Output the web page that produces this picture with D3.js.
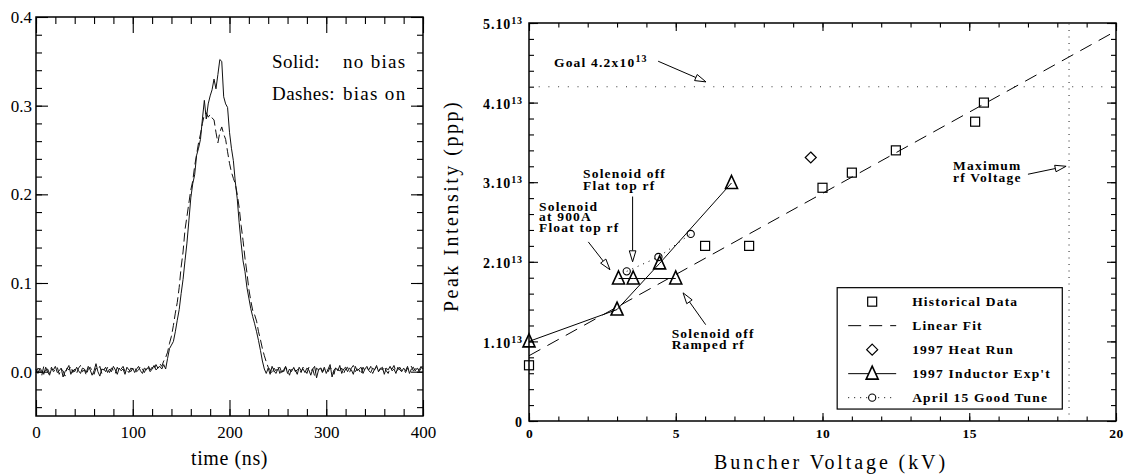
<!DOCTYPE html>
<html>
<head>
<meta charset="utf-8">
<script src="https://cdn.jsdelivr.net/npm/d3@7"></script>
<style>
  body { margin: 0; background: #fff; }
  svg { display: block; }
</style>
</head>
<body>
<svg id="chart" width="1124" height="474"></svg>
<script>
// ---------- left panel: beam pulse, one sample every 2 ns from 0 to 400 ns
var sampleStep = 2;
var solidV = [
  .003,-.002,.004,.001,-.003,.005,.000,-.004,.003,.002,
  .006,-.001,.001,.004,-.006,.000,.003,.007,-.003,.002,
  .000,.005,.001,-.002,.004,.003,-.001,.006,.002,-.004,
  .001,.009,.000,-.005,.003,.002,.005,-.001,.003,.000,
  .006,.002,-.003,.004,.001,.003,-.003,.005,.002,.000,
  .004,-.001,.003,.006,.001,-.002,.004,.002,.005,.000,
  .003,.007,.002,.004,.006,.003,.008,.003,.015,.026,
  .030,.034,.045,.058,.070,.088,.104,.125,.145,.170,
  .196,.212,.222,.244,.252,.262,.285,.306,.285,.302,
  .311,.318,.330,.319,.335,.352,.350,.310,.302,.298,
  .270,.252,.238,.214,.195,.168,.145,.125,.113,.095,
  .083,.071,.062,.054,.045,.035,.024,.012,.003,-.002,
  .004,-.003,.006,.001,-.002,.003,.005,-.001,.002,.006,
  -.002,.003,.000,.004,.002,-.003,.005,.001,.003,-.001,
  .004,.002,-.004,.003,.006,-.007,.002,.004,.000,.005,
  -.002,.003,.008,-.006,.002,.004,.001,.007,-.002,.003,
  .005,.000,.004,.002,-.003,.006,.001,.003,.005,-.002,
  .003,.006,.001,-.001,.004,.002,.007,.000,.003,.005,
  -.003,.004,.002,.006,.001,.003,-.002,.005,.002,.000,
  .004,.001,.006,-.002,.003,.005,.001,.004,.002,.006,
  .003
];
var dashedV = [
  -.001,.004,.002,-.004,.006,.001,.003,-.002,.005,.000,
  .002,.005,-.003,.003,.001,-.005,.004,.002,.006,-.001,
  .003,-.002,.004,.007,.000,.002,-.004,.003,.005,.001,
  -.003,.004,.002,.006,-.002,.003,.000,.005,-.001,.004,
  .002,-.002,.005,.001,.003,.006,.000,.002,-.001,.004,
  .003,.005,.000,.002,.006,.003,-.001,.004,.007,.002,
  .005,.002,.008,.004,.009,.006,.012,.016,.022,.032,
  .040,.052,.066,.078,.095,.118,.135,.160,.175,.190,
  .205,.215,.232,.245,.258,.268,.280,.290,.292,.287,
  .290,.286,.284,.270,.258,.270,.276,.268,.262,.248,
  .235,.225,.218,.212,.200,.185,.165,.148,.128,.112,
  .093,.080,.069,.064,.057,.045,.036,.026,.018,.011,
  .005,.002,-.003,.004,.001,.006,-.002,.003,.000,.005,
  .002,-.004,.003,.006,.000,.002,.004,-.001,.005,.002,
  -.002,.005,.001,.003,-.005,.004,.002,.006,-.001,.003,
  .004,.000,.005,.002,-.003,.006,.002,.001,.004,-.002,
  .003,.005,-.001,.004,.007,.000,.003,.002,-.003,.005,
  .001,.004,.002,.006,-.002,.003,.005,.000,.004,.002,
  .006,.001,-.002,.004,.003,.007,.000,.002,.005,.001,
  .003,-.001,.004,.002,.006,.001,.003,.005,.000,.004,
  .006
];
var leftXTicks = [0, 100, 200, 300, 400];
var leftYTicks = [0.0, 0.1, 0.2, 0.3, 0.4];

// ---------- right panel: peak intensity (units of 1e13 ppp) vs buncher voltage (kV)
var histX = [0, 6.0, 7.5, 10.0, 11.0, 12.5, 15.2, 15.5];
var histY = [0.70, 2.20, 2.20, 2.93, 3.12, 3.40, 3.76, 4.00];
var heatX = [9.6];
var heatY = [3.31];
var inductX = [0, 3.0, 4.45, 6.9];
var inductY = [1.0, 1.40, 1.98, 2.99];
var flatX = [3.05, 3.55, 5.0];
var flatY = [1.79, 1.79, 1.79];
var tuneX = [3.33, 4.41, 5.51];
var tuneY = [1.88, 2.06, 2.35];
var fitX = [0, 20];
var fitY = [0.82, 4.90];
var goalY = 4.2;
var maxRfX = 18.4;
var rightXTicks = [0, 5, 10, 15, 20];
var rightYTicks = [0, 1, 2, 3, 4, 5];
var legendNames = ["Historical Data", "Linear Fit", "1997 Heat Run", "1997 Inductor Exp't", "April 15 Good Tune"];

var FL = "Liberation Serif";
var annSize = 13.5, annSpacing = 1.2, annWeight = "bold";

var svg = d3.select("#chart");
svg.append("rect").attr("width", 1124).attr("height", 474).attr("fill", "#fff");

// inward ticks on all four sides, drawn with d3 axes
function frameTicks(g, x, y, xMaj, xMin, yMaj, yMin, lens) {
  var xr = x.range(), yr = y.range();
  var defs = [
    [d3.axisBottom(x), xMaj, lens[0], "translate(0," + yr[0] + ")"],
    [d3.axisBottom(x), xMin, lens[1], "translate(0," + yr[0] + ")"],
    [d3.axisTop(x), xMaj, lens[0], "translate(0," + yr[1] + ")"],
    [d3.axisTop(x), xMin, lens[1], "translate(0," + yr[1] + ")"],
    [d3.axisLeft(y), yMaj, lens[2], "translate(" + xr[0] + ",0)"],
    [d3.axisLeft(y), yMin, lens[3], "translate(" + xr[0] + ",0)"],
    [d3.axisRight(y), yMaj, lens[2], "translate(" + xr[1] + ",0)"],
    [d3.axisRight(y), yMin, lens[3], "translate(" + xr[1] + ",0)"]
  ];
  defs.forEach(function (d) {
    var a = g.append("g").attr("transform", d[3])
      .call(d[0].tickValues(d[1]).tickSizeInner(-d[2]).tickSizeOuter(0).tickFormat(""));
    a.select(".domain").remove();
    a.selectAll("line").attr("stroke", "#000").attr("stroke-width", 1.1);
  });
  g.append("rect")
    .attr("x", xr[0]).attr("y", yr[1])
    .attr("width", xr[1] - xr[0]).attr("height", yr[0] - yr[1])
    .attr("fill", "none").attr("stroke", "#000").attr("stroke-width", 1.5);
}

// ================= LEFT PANEL =================
var xL = d3.scaleLinear().domain([0, 400]).range([36, 423]);
var yL = d3.scaleLinear().domain([-0.05, 0.4]).range([416, 17]);
var gL = svg.append("g");

var lineL = d3.line()
  .x(function (d, i) { return xL(i * sampleStep); })
  .y(function (d) { return yL(d); });

gL.append("path").datum(dashedV).attr("d", lineL)
  .attr("fill", "none").attr("stroke", "#111").attr("stroke-width", 1)
  .attr("stroke-dasharray", "9,4");
gL.append("path").datum(solidV).attr("d", lineL)
  .attr("fill", "none").attr("stroke", "#111").attr("stroke-width", 1);

frameTicks(gL, xL, yL,
  leftXTicks, d3.range(0, 401, 20),
  leftYTicks, d3.range(-0.04, 0.4, 0.02),
  [16, 7, 12, 6]);

gL.append("g").attr("transform", "translate(0,416)")
  .call(d3.axisBottom(xL).tickValues(leftXTicks).tickSize(0).tickPadding(10).tickFormat(d3.format("d")))
  .call(function (a) { a.select(".domain").remove(); })
  .selectAll("text").attr("font-size", 17).attr("font-family", FL).attr("fill", "#000");

gL.append("g").attr("transform", "translate(36,0)")
  .call(d3.axisLeft(yL).tickValues(leftYTicks).tickSize(0).tickPadding(4).tickFormat(d3.format(".1f")))
  .call(function (a) { a.select(".domain").remove(); })
  .selectAll("text").attr("font-size", 17).attr("font-family", FL).attr("fill", "#000");

gL.append("text").attr("x", xL(200)).attr("y", 465)
  .attr("text-anchor", "middle").attr("font-family", FL).attr("font-size", 20).attr("letter-spacing", 0.6)
  .text("time (ns)");

var keyL = gL.append("g").attr("font-family", FL).attr("font-size", 19).attr("letter-spacing", 0.4);
keyL.append("text").attr("x", xL(244)).attr("y", yL(0.342)).text("Solid:");
keyL.append("text").attr("x", xL(317.3)).attr("y", yL(0.342)).attr("letter-spacing", 1.3).text("no bias");
keyL.append("text").attr("x", xL(244)).attr("y", yL(0.306)).text("Dashes:");
keyL.append("text").attr("x", xL(317.3)).attr("y", yL(0.306)).attr("letter-spacing", 1.3).text("bias on");

// ================= RIGHT PANEL =================
var xR = d3.scaleLinear().domain([0, 20]).range([529, 1116]);
var yR = d3.scaleLinear().domain([0, 5]).range([421, 23]);
var gR = svg.append("g");

frameTicks(gR, xR, yR,
  rightXTicks, d3.range(0, 21, 1),
  rightYTicks, d3.range(0, 5.01, 0.2),
  [8, 4.5, 9, 5]);

gR.append("g").attr("transform", "translate(0,421)")
  .call(d3.axisBottom(xR).tickValues(rightXTicks).tickSize(0).tickPadding(7).tickFormat(d3.format("d")))
  .call(function (a) { a.select(".domain").remove(); })
  .selectAll("text").attr("font-size", 13.5).attr("font-family", FL).attr("font-weight", annWeight)
  .attr("fill", "#000").attr("letter-spacing", 0.5);

var yAx = gR.append("g").attr("transform", "translate(529,0)")
  .call(d3.axisLeft(yR).tickValues(rightYTicks).tickSize(0).tickPadding(6).tickFormat(""));
yAx.select(".domain").remove();
yAx.selectAll(".tick text").each(function (d) {
  var t = d3.select(this)
    .attr("font-size", 14).attr("font-family", FL).attr("font-weight", annWeight).attr("fill", "#000")
    .attr("dy", "0.4em").attr("letter-spacing", 0.9);
  if (d === 0) { t.text("0"); return; }
  t.append("tspan").text(d + ".10");
  t.append("tspan").attr("dy", "-0.5em").attr("font-size", 10).text("13");
});

// reference lines
gR.append("line")
  .attr("x1", xR(0)).attr("x2", xR(20)).attr("y1", yR(goalY)).attr("y2", yR(goalY))
  .attr("stroke", "#333").attr("stroke-width", 1.1).attr("stroke-dasharray", "1,8.7");
gR.append("line")
  .attr("x1", xR(maxRfX)).attr("x2", xR(maxRfX)).attr("y1", yR(0)).attr("y2", yR(5))
  .attr("stroke", "#333").attr("stroke-width", 1.1).attr("stroke-dasharray", "1,5.5");

var lineR = d3.line().x(function (d) { return xR(d[0]); }).y(function (d) { return yR(d[1]); });
function pairs(xs, ys) { return xs.map(function (v, i) { return [v, ys[i]]; }); }

// linear fit
gR.append("path").datum(pairs(fitX, fitY)).attr("d", lineR)
  .attr("fill", "none").attr("stroke", "#000").attr("stroke-width", 1).attr("stroke-dasharray", "13,8");
// inductor experiment lines
gR.append("path").datum(pairs(inductX, inductY)).attr("d", lineR)
  .attr("fill", "none").attr("stroke", "#000").attr("stroke-width", 1);
gR.append("path").datum(pairs(flatX, flatY)).attr("d", lineR)
  .attr("fill", "none").attr("stroke", "#000").attr("stroke-width", 1);
// good tune dotted
gR.append("path").datum(pairs(tuneX, tuneY)).attr("d", lineR)
  .attr("fill", "none").attr("stroke", "#000").attr("stroke-width", 1).attr("stroke-dasharray", "1,5");

// marker shapes
var triPath = "M0,-7.5L6,5.5L-6,5.5Z";
function drawSquares(g, pts) {
  g.selectAll(null).data(pts).enter().append("rect")
    .attr("x", function (d) { return xR(d[0]) - 4.5; }).attr("y", function (d) { return yR(d[1]) - 4.5; })
    .attr("width", 9).attr("height", 9)
    .attr("fill", "none").attr("stroke", "#000").attr("stroke-width", 1.2);
}
function drawDiamonds(g, pts) {
  g.selectAll(null).data(pts).enter().append("path")
    .attr("d", "M0,-5.5L5.5,0L0,5.5L-5.5,0Z")
    .attr("transform", function (d) { return "translate(" + xR(d[0]) + "," + yR(d[1]) + ")"; })
    .attr("fill", "none").attr("stroke", "#000").attr("stroke-width", 1.2);
}
function drawTriangles(g, pts) {
  g.selectAll(null).data(pts).enter().append("path")
    .attr("d", triPath)
    .attr("transform", function (d) { return "translate(" + xR(d[0]) + "," + yR(d[1]) + ")"; })
    .attr("fill", "none").attr("stroke", "#000").attr("stroke-width", 1.6);
}
function drawCircles(g, pts) {
  g.selectAll(null).data(pts).enter().append("circle")
    .attr("cx", function (d) { return xR(d[0]); }).attr("cy", function (d) { return yR(d[1]); })
    .attr("r", 3.6).attr("fill", "none").attr("stroke", "#000").attr("stroke-width", 1.1);
}
drawSquares(gR, pairs(histX, histY));
drawDiamonds(gR, pairs(heatX, heatY));
drawTriangles(gR, pairs(inductX, inductY));
drawTriangles(gR, pairs(flatX, flatY));
drawCircles(gR, pairs(tuneX, tuneY));

// annotations with open arrowheads
function arrow(g, from, to) {
  var x1 = xR(from[0]), y1 = yR(from[1]), x2 = xR(to[0]), y2 = yR(to[1]);
  var dx = x2 - x1, dy = y2 - y1, L = Math.sqrt(dx * dx + dy * dy);
  var ux = dx / L, uy = dy / L, hl = 11, hw = 3.3;
  var bx = x2 - ux * hl, by = y2 - uy * hl;
  g.append("line").attr("x1", x1).attr("y1", y1).attr("x2", bx).attr("y2", by)
    .attr("stroke", "#000").attr("stroke-width", 1);
  g.append("path")
    .attr("d", "M" + x2 + "," + y2 + "L" + (bx - uy * hw) + "," + (by + ux * hw) +
      "L" + (bx + uy * hw) + "," + (by - ux * hw) + "Z")
    .attr("fill", "#fff").attr("stroke", "#000").attr("stroke-width", 1);
}
function label(g, x, ys, lines) {
  lines.forEach(function (s, i) {
    g.append("text").attr("x", xR(x)).attr("y", yR(ys[i]))
      .attr("font-family", FL).attr("font-size", annSize).attr("font-weight", annWeight)
      .attr("letter-spacing", annSpacing).text(s);
  });
}
var ann = gR.append("g");
var goal = ann.append("text").attr("x", xR(0.85)).attr("y", yR(4.45))
  .attr("font-family", FL).attr("font-size", annSize).attr("font-weight", annWeight)
  .attr("letter-spacing", annSpacing);
goal.append("tspan").text("Goal 4.2x10");
goal.append("tspan").attr("dy", "-0.45em").attr("font-size", 10).text("13");
arrow(ann, [4.40, 4.52], [6.03, 4.26]);

label(ann, 14.45, [3.15, 3.0], ["Maximum", "rf Voltage"]);
arrow(ann, [17.0, 3.10], [18.3, 3.20]);

label(ann, 1.84, [3.05, 2.90], ["Solenoid off", "Flat top rf"]);
arrow(ann, [3.53, 2.82], [3.53, 2.0]);

label(ann, 0.34, [2.64, 2.51, 2.37], ["Solenoid", "at 900A", "Float top rf"]);
arrow(ann, [2.02, 2.25], [2.76, 1.90]);

label(ann, 4.86, [1.04, 0.90], ["Solenoid off", "Ramped rf"]);
arrow(ann, [6.02, 1.21], [5.25, 1.61]);

// legend box
var lx0 = xR(10.5), lx1 = xR(18.17), ly0 = yR(1.675), ly1 = yR(0.15);
var leg = gR.append("g");
leg.append("rect").attr("x", lx0).attr("y", ly0).attr("width", lx1 - lx0).attr("height", ly1 - ly0)
  .attr("fill", "#fff").attr("stroke", "#000").attr("stroke-width", 1.2);
var symX = lx0 + 35, rowY = function (i) { return ly0 + 14 + i * 24; };
leg.append("rect").attr("x", symX - 4.5).attr("y", rowY(0) - 4.5).attr("width", 9).attr("height", 9)
  .attr("fill", "none").attr("stroke", "#000").attr("stroke-width", 1.2);
leg.append("line").attr("x1", symX - 24).attr("x2", symX + 24).attr("y1", rowY(1)).attr("y2", rowY(1))
  .attr("stroke", "#000").attr("stroke-dasharray", "13,8");
leg.append("path").attr("d", "M0,-5.5L5.5,0L0,5.5L-5.5,0Z").attr("transform", "translate(" + symX + "," + rowY(2) + ")")
  .attr("fill", "none").attr("stroke", "#000").attr("stroke-width", 1.2);
leg.append("line").attr("x1", symX - 24).attr("x2", symX + 24).attr("y1", rowY(3)).attr("y2", rowY(3))
  .attr("stroke", "#000");
leg.append("path").attr("d", triPath).attr("transform", "translate(" + symX + "," + rowY(3) + ")")
  .attr("fill", "#fff").attr("stroke", "#000").attr("stroke-width", 1.6);
leg.append("line").attr("x1", symX - 24).attr("x2", symX + 24).attr("y1", rowY(4)).attr("y2", rowY(4))
  .attr("stroke", "#000").attr("stroke-dasharray", "1,5");
leg.append("circle").attr("cx", symX).attr("cy", rowY(4)).attr("r", 3.6)
  .attr("fill", "#fff").attr("stroke", "#000").attr("stroke-width", 1.1);
leg.selectAll("text.name").data(legendNames).enter().append("text")
  .attr("x", lx0 + 75).attr("y", function (d, i) { return rowY(i) + 4.5; })
  .attr("font-family", FL).attr("font-size", annSize).attr("font-weight", annWeight)
  .attr("letter-spacing", annSpacing)
  .text(function (d) { return d; });

// axis titles
gR.append("text").attr("x", 831).attr("y", 469).attr("text-anchor", "middle")
  .attr("font-family", FL).attr("font-size", 20).attr("letter-spacing", 2.9)
  .text("Buncher Voltage (kV)");
gR.append("text").attr("transform", "translate(458,206) rotate(-90)").attr("text-anchor", "middle")
  .attr("font-family", FL).attr("font-size", 20).attr("letter-spacing", 2.5)
  .text("Peak Intensity (ppp)");
</script>
</body>
</html>
